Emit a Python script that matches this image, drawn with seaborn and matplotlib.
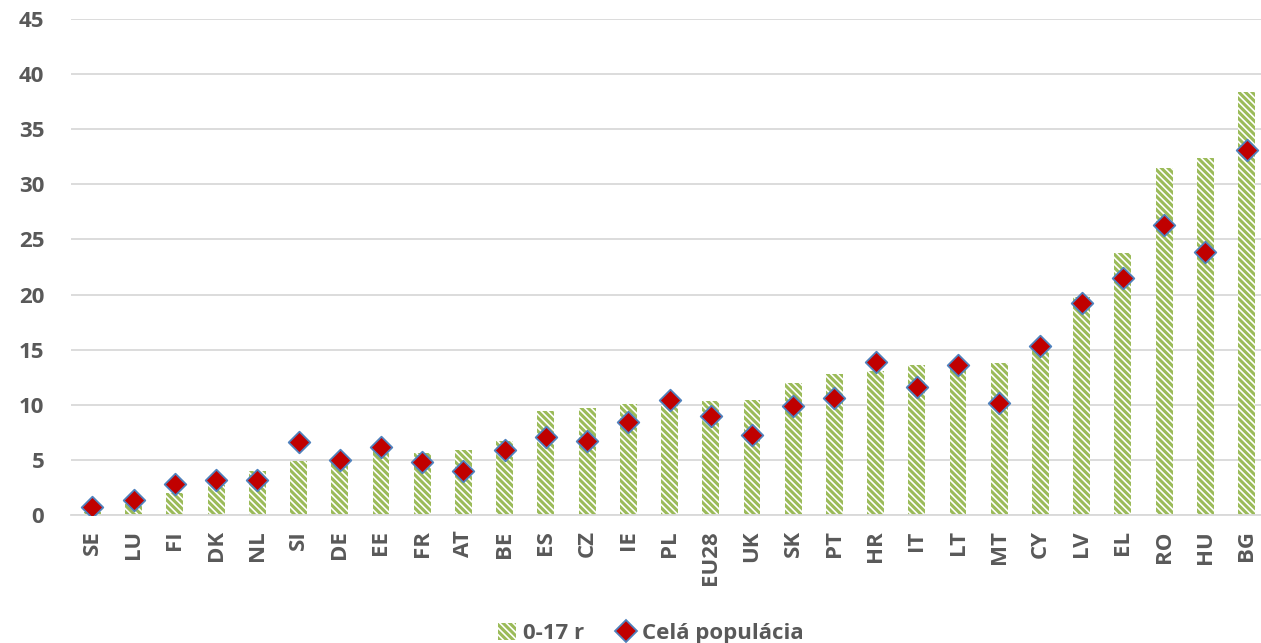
import matplotlib
matplotlib.use("Agg")
import matplotlib.pyplot as plt
import seaborn as sns
import pandas as pd
from matplotlib.patches import Patch
from matplotlib.lines import Line2D

# values
countries = ["SE", "LU", "FI", "DK", "NL", "SI", "DE", "EE", "FR", "AT", "BE", "ES", "CZ", "IE",
             "PL", "EU28", "UK", "SK", "PT", "HR", "IT", "LT", "MT", "CY", "LV", "EL", "RO", "HU", "BG"]
kids_0_17 = [0.3, 1.0, 2.0, 2.7, 4.0, 4.9, 4.7, 5.8, 5.6, 5.9, 6.7, 9.4, 9.7, 10.1,
             10.0, 10.3, 10.4, 12.0, 12.8, 13.1, 13.6, 13.3, 13.8, 15.0, 19.8, 23.8, 31.5, 32.4, 38.4]
whole_pop = [0.7, 1.4, 2.8, 3.2, 3.2, 6.6, 5.0, 6.2, 4.8, 4.0, 5.9, 7.1, 6.7, 8.4,
             10.4, 9.0, 7.3, 9.9, 10.6, 13.9, 11.6, 13.6, 10.2, 15.3, 19.2, 21.5, 26.3, 23.9, 33.1]
y_ticks = list(range(0, 50, 5))

GREEN = "#9BBB59"
RED = "#C00000"
BLUE = "#4F81BD"
GREY = "#595959"
HATCH = "\\\\\\\\\\"

df = pd.DataFrame({"country": countries, "kids": kids_0_17, "all": whole_pop})

sns.set_theme(style="white")
plt.rcParams["font.family"] = ["Open Sans", "DejaVu Sans"]
plt.rcParams["font.weight"] = "bold"
plt.rcParams["hatch.linewidth"] = 2.2

fig = plt.figure(figsize=(12.61, 6.43), dpi=100)
ax = fig.add_axes([0.056, 0.199, 0.944, 0.7715])

sns.barplot(data=df, x="country", y="kids", color="white", width=0.41,
            edgecolor=GREEN, linewidth=0, hatch=HATCH, ax=ax, zorder=2)
for bar in ax.patches:
    bar.set_facecolor("white")
    bar.set_edgecolor(GREEN)
    bar.set_hatch(HATCH)

sns.stripplot(data=df, x="country", y="all", jitter=False, marker="D", size=11,
              color=RED, edgecolor=BLUE, linewidth=1.3, ax=ax, zorder=3)

ax.set_ylim(0, 45)
ax.set_xlim(-0.53, 28.35)
ax.set_yticks(y_ticks)
ax.yaxis.grid(True, color="#D9D9D9", linewidth=1.3, zorder=0)
ax.set_axisbelow(True)
for s in ["left", "right", "top"]:
    ax.spines[s].set_visible(False)
ax.spines["bottom"].set_color("#D9D9D9")
ax.spines["bottom"].set_linewidth(1.3)
ax.set_xlabel("")
ax.set_ylabel("")
ax.tick_params(axis="y", length=0, pad=19, labelsize=16, labelcolor=GREY)
ax.tick_params(axis="x", length=0, pad=11, labelsize=16, labelcolor=GREY, labelrotation=90)

handles = [
    Patch(facecolor="white", edgecolor=GREEN, hatch=HATCH, linewidth=0, label="0-17 r"),
    Line2D([], [], marker="D", linestyle="none", markersize=11, markerfacecolor=RED,
           markeredgecolor=BLUE, markeredgewidth=1.3, label="Celá populácia"),
]
leg = fig.legend(handles=handles, loc="center", bbox_to_anchor=(0.516, 0.015), ncol=2,
                 frameon=False, fontsize=16, handlelength=0.8, handleheight=0.8,
                 handletextpad=0.3, columnspacing=1.5)
for t in leg.get_texts():
    t.set_color(GREY)

fig.savefig("out.png", dpi=100)
